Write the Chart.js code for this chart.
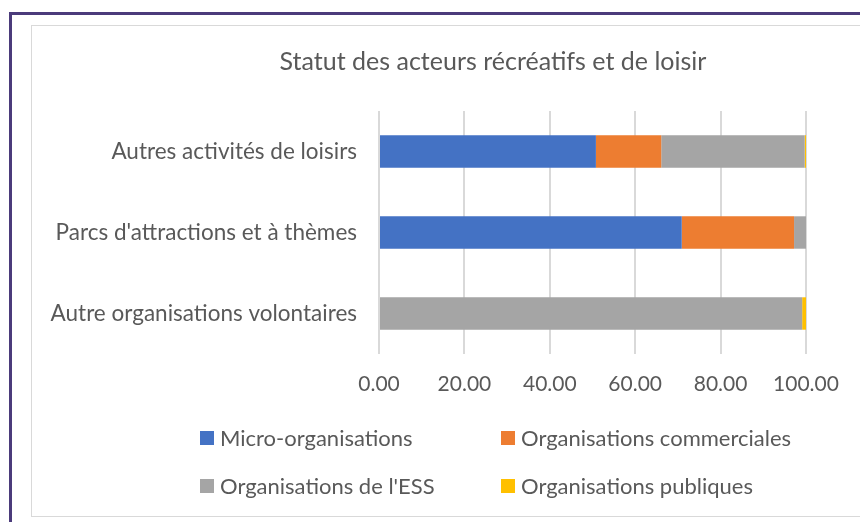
<!DOCTYPE html>
<html lang="fr">
<head>
<meta charset="utf-8">
<title>Statut des acteurs récréatifs et de loisir</title>
<script src="https://cdn.jsdelivr.net/npm/chart.js@4.4.1/dist/chart.umd.min.js"></script>
<style>
    html, body { margin: 0; padding: 0; background: #fff; width: 860px; height: 522px; overflow: hidden; }
    /* dark page frame on the top and left edges */
    .frame {
        position: absolute; left: 9px; top: 12px; width: 1000px; height: 700px;
        border-top: 3.5px solid #4b3b7b; border-left: 3.5px solid #4b3b7b;
    }
    /* chart border, runs past the right edge of the window */
    .box {
        position: absolute; left: 31px; top: 25px; width: 924px; height: 492px;
        border: 1.5px solid #d9d9d9; box-sizing: border-box;
    }
    #statutChart { position: absolute; left: 31px; top: 25px; }
</style>
</head>
<body>
<div class="frame"></div>
<div class="box"></div>
<canvas id="statutChart" width="924" height="492"></canvas>
<script>
// Share of each status per activity (%)
const categories = ['Autres activités de loisirs', "Parcs d'attractions et à thèmes", 'Autre organisations volontaires'];
const microOrganisations = [50.8, 70.9, 0];
const organisationsCommerciales = [15.3, 26.3, 0];
const organisationsEss = [33.6, 2.8, 99.1];
const organisationsPubliques = [0.3, 0, 0.9];
const xTicks = [0, 20, 40, 60, 80, 100];

const seriesLabels = ['Micro-organisations', 'Organisations commerciales', "Organisations de l'ESS", 'Organisations publiques'];
const seriesColors = ['#4472c4', '#ed7d31', '#a5a5a5', '#ffc000'];
const seriesValues = [microOrganisations, organisationsCommerciales, organisationsEss, organisationsPubliques];

const textColor = '#595959';
const fontFamily = 'Lato, "Liberation Sans", sans-serif';

// Two-column legend, columns aligned like the office-style legend
const gridLegend = {
    id: 'gridLegend',
    afterDraw(chart) {
        const ctx = chart.ctx;
        const cols = [169, 470];
        const top = chart.chartArea.bottom + 84;
        const rowGap = 48;
        const box = 14;
        ctx.save();
        ctx.font = `22px ${fontFamily}`;
        ctx.textBaseline = 'middle';
        chart.data.datasets.forEach((ds, i) => {
            const x = cols[i % 2];
            const y = top + Math.floor(i / 2) * rowGap;
            ctx.fillStyle = ds.backgroundColor;
            ctx.fillRect(x, y - box / 2, box, box);
            ctx.fillStyle = textColor;
            ctx.fillText(ds.label, x + box + 6, y + 1);
        });
        ctx.restore();
    }
};

const ctx = document.getElementById('statutChart').getContext('2d');

new Chart(ctx, {
    type: 'bar',
    data: {
        labels: categories,
        datasets: seriesValues.map((values, i) => ({
            label: seriesLabels[i],
            data: values,
            backgroundColor: seriesColors[i],
            borderWidth: 0,
            categoryPercentage: 1,
            barPercentage: 0.4
        }))
    },
    options: {
        indexAxis: 'y',
        responsive: false,
        animation: false,
        layout: {
            padding: { left: 0, right: 0, top: 0, bottom: 103 }
        },
        scales: {
            x: {
                stacked: true,
                min: 0,
                max: 100,
                afterBuildTicks: axis => {
                    axis.ticks = xTicks.map(v => ({ value: v }));
                },
                afterFit: axis => { axis.height = 60; },
                grid: { color: '#d9d9d9', lineWidth: 2, drawTicks: false },
                border: { display: false },
                ticks: {
                    padding: 18,
                    color: textColor,
                    font: { family: fontFamily, size: 21 },
                    callback: v => v.toFixed(2)
                }
            },
            y: {
                stacked: true,
                afterFit: axis => { axis.width = 348; },
                grid: { display: false, drawTicks: false },
                border: { display: false },
                ticks: {
                    padding: 22,
                    color: textColor,
                    font: { family: fontFamily, size: 22.5 }
                }
            },
            // empty right-hand axis: keeps the plot narrow while the title stays centred on the whole chart
            yRight: {
                type: 'category',
                position: 'right',
                labels: categories,
                afterFit: axis => { axis.width = 149; },
                grid: { display: false, drawTicks: false },
                border: { display: false },
                ticks: { display: false }
            }
        },
        plugins: {
            legend: { display: false },
            tooltip: { enabled: false },
            title: {
                display: true,
                text: 'Statut des acteurs récréatifs et de loisir',
                color: textColor,
                font: { family: fontFamily, size: 25, weight: 'normal' },
                padding: { top: 22, bottom: 34 }
            }
        }
    },
    plugins: [gridLegend]
});
</script>
</body>
</html>
